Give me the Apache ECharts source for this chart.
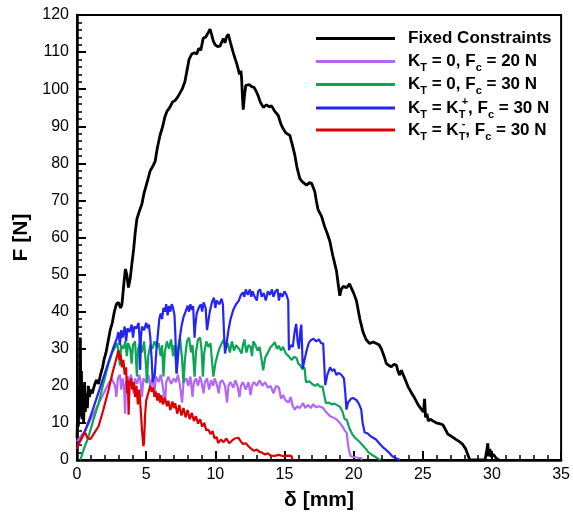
<!DOCTYPE html>
<html>
<head>
<meta charset="utf-8">
<script src="https://cdn.jsdelivr.net/npm/echarts@6/dist/echarts.min.js"></script>
<style>
  html, body { margin: 0; padding: 0; background: #fff; }
  #chart { width: 573px; height: 516px; }
</style>
</head>
<body>
<div id="chart"></div>
<script>
// 数据 (δ [mm], F [N])
var fixedConstraints = [[0,6],[0.05,14],[0.1,9],[0.15,20],[0.2,12],[0.24,33],[0.28,16],[0.32,24],[0.36,11],[0.42,19],[0.48,10],[0.55,21],[0.6,13],[0.68,18],[0.75,14],[0.82,20],[0.9,17],[1.0,19],[1.1,18],[1.25,20],[1.4,21.6],[1.55,20.5],[1.7,23],[1.85,25],[1.95,27],[2.1,29],[2.25,32],[2.4,35],[2.55,37],[2.7,40],[2.85,42],[3.0,42.5],[3.15,41],[3.25,42],[3.4,48],[3.5,51.5],[3.6,50],[3.72,46.5],[3.85,49],[3.97,53],[4.1,57],[4.2,61],[4.33,65],[4.5,67],[4.69,69],[4.85,72],[5.0,74],[5.15,76],[5.29,78],[5.45,79],[5.65,80.5],[5.8,84],[6.0,87.5],[6.2,90],[6.35,92.5],[6.5,94],[6.7,95],[6.9,96.5],[7.1,97],[7.3,98],[7.45,99],[7.6,100],[7.8,102],[7.95,105],[8.1,108],[8.3,109.5],[8.5,109.8],[8.66,109.5],[8.8,111],[8.95,110.5],[9.13,113.8],[9.3,114],[9.45,115],[9.62,116.2],[9.75,114.5],[9.85,113],[9.98,112],[10.15,111.5],[10.34,111.6],[10.5,113],[10.58,113.6],[10.7,112.5],[10.8,114],[10.94,114.8],[11.1,112.5],[11.3,109.8],[11.45,108],[11.54,107],[11.66,107.5],[11.75,104],[11.85,105],[11.9,103],[11.96,98],[12.02,94.5],[12.1,98],[12.2,101],[12.3,100.5],[12.45,101.2],[12.63,100.7],[12.8,100.5],[12.95,99.5],[13.1,98.2],[13.25,96.5],[13.47,95.1],[13.7,95.8],[13.9,95.2],[14.07,95.5],[14.3,94],[14.55,92.9],[14.75,90.5],[14.91,89.3],[15.1,88.2],[15.39,87.5],[15.6,84.5],[15.75,82.2],[15.9,79],[16.11,75.9],[16.3,75],[16.6,74.1],[16.8,74.8],[16.96,74.6],[17.19,72.4],[17.3,70],[17.43,67.5],[17.68,65.7],[17.9,63],[18.1,61],[18.28,59],[18.5,55],[18.76,51],[18.9,47],[19.0,44.3],[19.1,46],[19.24,46.8],[19.5,46.5],[19.7,47.5],[19.84,47],[20.0,45],[20.2,43],[20.45,38],[20.68,34.5],[20.9,32.5],[21.16,31.4],[21.4,31.8],[21.65,31.4],[21.85,31],[22.0,30],[22.2,28],[22.37,26],[22.55,25.5],[22.73,25.1],[22.9,25.8],[23.09,25.6],[23.2,24],[23.33,22.9],[23.45,24.2],[23.56,23.8],[23.75,21.5],[23.93,19.8],[24.2,18],[24.41,16.7],[24.65,15],[24.9,13.6],[25.05,13],[25.13,16.5],[25.2,11.5],[25.3,12.5],[25.4,10.5],[25.55,11],[25.75,10.5],[25.97,10],[26.2,9.8],[26.45,9.5],[26.6,8.5],[26.81,7],[27.1,6.3],[27.42,5.5],[27.7,4.8],[27.89,4.2],[28.1,3],[28.25,1.5],[28.4,0],[29.5,0],[29.6,2],[29.7,4.5],[29.75,1],[29.85,3],[29.95,0.8],[30.1,1.5],[30.3,0.5],[30.5,0]];

var ktZeroFc20 = [[0,5],[0.3,6.5],[0.6,8],[1.0,11],[1.4,14],[1.8,17],[2.2,20],[2.5,22],[2.64,22.5],[2.75,20],[2.85,17],[2.95,22],[3.1,23],[3.2,19],[3.3,22],[3.4,20],[3.48,12.5],[3.55,21],[3.7,22.5],[3.8,20],[3.9,23],[4.0,21],[4.1,18],[4.2,22],[4.35,20.5],[4.5,23],[4.6,21],[4.7,17],[4.8,22],[5.0,21],[5.15,23],[5.3,20],[5.45,22],[5.6,18],[5.7,22.5],[5.9,21],[6.05,23],[6.2,20],[6.37,15.5],[6.45,21],[6.6,22.5],[6.8,20.5],[7.0,22],[7.15,21],[7.3,23],[7.45,20],[7.6,15.5],[7.7,21],[7.9,22],[8.05,20],[8.2,22.5],[8.35,17],[8.45,21],[8.6,22],[8.75,20],[8.9,22.5],[9.0,21],[9.15,18],[9.25,21],[9.4,22],[9.55,19],[9.7,21.5],[9.85,20],[9.95,22],[10.1,20.5],[10.25,18],[10.35,21],[10.5,21.5],[10.7,20],[10.85,15.5],[10.95,20],[11.1,21],[11.3,19.5],[11.45,21.5],[11.6,20],[11.75,17],[11.85,20],[12.0,21],[12.2,19],[12.4,21],[12.55,17.5],[12.65,20],[12.8,21],[13.0,20],[13.2,21.5],[13.4,20],[13.6,21],[13.8,19.5],[14.0,20],[14.2,18],[14.4,20],[14.6,19.5],[14.75,16.5],[14.9,17.5],[15.1,16],[15.3,15.5],[15.45,17],[15.6,14.5],[15.75,13.6],[15.9,14.5],[16.1,14],[16.35,15.3],[16.5,14],[16.7,14.8],[16.9,14],[17.07,15],[17.3,14.2],[17.5,14.5],[17.8,14],[18.0,13],[18.3,11.8],[18.5,11.5],[18.76,11],[19.0,10],[19.2,9],[19.35,8],[19.5,7.3],[19.6,4],[19.7,2],[19.8,1],[20.0,0.8],[20.3,0.6],[20.55,0.5],[20.6,0]];

var ktZeroFc30 = [[0.24,0],[0.5,3],[0.84,6.4],[1.2,11],[1.56,15.3],[1.9,20.5],[2.28,26],[2.55,29],[2.76,30.5],[2.9,31.5],[3.0,29],[3.1,25.5],[3.2,31],[3.35,30],[3.5,32],[3.6,28],[3.7,31.5],[3.85,30],[3.95,26],[4.05,31],[4.2,32],[4.33,22.5],[4.42,30],[4.55,31.5],[4.7,29],[4.85,32],[5.0,25],[5.05,20.7],[5.15,28],[5.3,31],[5.45,30],[5.6,32],[5.75,30.5],[5.9,31.5],[6.05,28],[6.15,31],[6.25,22.5],[6.35,29],[6.5,32],[6.65,30],[6.8,32.5],[6.95,28],[7.05,31],[7.2,23.4],[7.3,30],[7.45,33],[7.6,27],[7.7,20.7],[7.8,27],[7.95,32],[8.1,33],[8.25,29],[8.35,31],[8.5,22.5],[8.6,29],[8.75,32.5],[8.9,33],[9.0,30],[9.1,22.5],[9.2,29],[9.35,32],[9.5,30.5],[9.65,31.5],[9.86,22.5],[10.0,26],[10.2,29],[10.4,31],[10.6,32.4],[10.75,30],[10.9,31.5],[11.05,29],[11.2,32],[11.35,29.5],[11.5,31],[11.7,30],[11.9,28.7],[12.0,31],[12.1,32.5],[12.25,29],[12.4,31],[12.55,30.5],[12.65,28],[12.75,32],[12.9,31],[13.05,29.5],[13.2,30.5],[13.35,27],[13.46,24.2],[13.6,27.5],[13.8,29],[14.0,30.5],[14.15,31],[14.3,31.8],[14.45,30],[14.6,30.8],[14.75,29.5],[14.9,30.5],[15.1,28.7],[15.3,28],[15.5,27],[15.7,27.8],[15.87,27.5],[16.0,26],[16.15,25.5],[16.3,24.5],[16.45,25],[16.55,21],[16.65,20.5],[16.8,21.2],[17.0,20.5],[17.2,20],[17.4,20.5],[17.55,19.8],[17.75,19.8],[17.9,17],[18.0,15.3],[18.2,15.5],[18.4,15],[18.6,15.2],[18.8,14.8],[19.0,14.4],[19.2,13],[19.35,11],[19.5,10.9],[19.7,8.5],[19.9,7],[20.1,6],[20.4,5],[20.7,3.8],[21.1,2],[21.4,1.2],[21.8,0.3],[21.95,0]];

var ktPlusFc30 = [[0,4],[0.3,5.5],[0.6,8],[1.0,12],[1.4,16.5],[1.8,21],[2.2,25.5],[2.6,30],[2.9,33],[3.0,34.5],[3.1,31],[3.2,35],[3.3,33],[3.45,36],[3.55,32],[3.65,35.5],[3.8,34.5],[3.95,36.5],[4.05,33],[4.15,36],[4.3,35.5],[4.45,37],[4.52,33],[4.57,24.3],[4.62,33],[4.7,36],[4.85,35],[5.0,37],[5.1,35.5],[5.2,36.5],[5.3,33],[5.4,27],[5.48,21],[5.55,20.7],[5.62,23],[5.75,30],[5.85,34],[5.95,38],[6.05,39.5],[6.15,38],[6.25,41],[6.37,40],[6.45,42],[6.55,39],[6.65,41.5],[6.75,40],[6.85,42],[6.95,41],[7.05,39],[7.12,33],[7.2,23.3],[7.28,27],[7.4,32],[7.55,36],[7.7,38.5],[7.85,40],[8.0,41.6],[8.1,40],[8.2,42],[8.3,40.5],[8.4,41.5],[8.45,37],[8.5,33],[8.55,36],[8.65,39.5],[8.8,41],[8.95,42],[9.05,40],[9.15,42.5],[9.3,41],[9.4,35],[9.5,34.9],[9.6,40],[9.75,42.5],[9.9,43.8],[10.0,41],[10.1,43],[10.2,43.5],[10.3,42],[10.45,43.5],[10.55,42],[10.62,35],[10.7,28.7],[10.8,31],[10.95,35],[11.1,38],[11.3,40.5],[11.5,42],[11.7,43],[11.85,44.5],[12.0,45.2],[12.1,44],[12.2,46],[12.35,44.5],[12.5,46],[12.6,44],[12.7,45.5],[12.85,44],[13.0,43],[13.1,45.5],[13.25,46],[13.35,44],[13.5,45],[13.65,43],[13.8,45.5],[13.95,44.5],[14.1,46],[14.2,44],[14.35,45.5],[14.5,46],[14.6,43],[14.7,45],[14.85,44],[15.0,45.5],[15.15,44.5],[15.27,43],[15.32,29.6],[15.45,31],[15.6,30.5],[15.75,35],[15.85,36.7],[15.95,32],[16.05,30],[16.15,35],[16.22,36.5],[16.28,30],[16.32,24.7],[16.45,27],[16.6,29.5],[16.75,31.5],[16.9,32.3],[17.1,32.7],[17.3,32],[17.5,32.5],[17.65,31.5],[17.8,31.4],[17.95,20.2],[18.1,23],[18.3,25],[18.45,24],[18.6,24.5],[18.76,22.9],[18.9,23.5],[19.1,23],[19.3,22],[19.4,18],[19.48,13.6],[19.6,15.5],[19.8,16.5],[19.96,16.7],[20.2,16.2],[20.4,15],[20.55,13.6],[20.65,10],[20.8,7.4],[21.0,7.2],[21.2,6.5],[21.4,6],[21.6,5.6],[21.85,4.5],[22.1,3.5],[22.3,2.9],[22.55,2],[22.8,1],[23.1,0.4],[23.35,0]];

var ktMinusFc30 = [[0,3],[0.2,5],[0.4,6.5],[0.6,7.3],[0.75,6],[0.96,5.6],[1.2,7],[1.56,9.1],[1.9,13.5],[2.28,18.9],[2.6,24],[2.88,27.8],[3.0,29.6],[3.08,27],[3.15,28.5],[3.25,25],[3.35,27],[3.45,23],[3.55,25],[3.62,18],[3.68,21.6],[3.73,12.2],[3.8,20],[3.9,22],[4.0,19],[4.1,21],[4.2,17],[4.3,20],[4.4,15],[4.5,19],[4.6,14],[4.7,8],[4.8,3.7],[4.85,5],[4.92,12],[5.0,16],[5.15,18],[5.3,20],[5.4,18.4],[5.5,19.5],[5.6,17],[5.7,18.5],[5.8,16],[5.9,18],[6.0,15.5],[6.1,17.5],[6.2,15],[6.35,16.8],[6.5,14.5],[6.6,16],[6.75,13.5],[6.9,15.8],[7.0,14],[7.1,15.3],[7.25,12.5],[7.4,14.8],[7.55,12],[7.7,14],[7.85,11.5],[8.0,13.5],[8.15,11],[8.3,12.7],[8.45,10.5],[8.6,11.8],[8.75,9.8],[8.9,11],[9.05,9],[9.2,10],[9.35,8],[9.5,8.2],[9.65,7],[9.8,7.8],[9.95,5.8],[10.1,6.2],[10.2,4.6],[10.4,5.5],[10.6,4.8],[10.8,5.8],[11.0,4.5],[11.2,5.2],[11.4,5.8],[11.66,6],[11.85,5],[12.0,4.3],[12.2,4.5],[12.4,3.7],[12.6,3],[12.8,2.5],[13.0,2.8],[13.2,2.2],[13.35,2],[13.6,1.5],[13.8,1.8],[14.0,1.2],[14.3,1.1],[14.6,1.4],[14.9,1],[15.2,1.2],[15.5,1.1],[15.6,0]];

var seriesNames = ['Fixed Constraints', 'KT=0, Fc=20 N', 'KT=0, Fc=30 N', 'KT=KT+, Fc=30 N', 'KT=KT-, Fc=30 N'];
// 图例富文本 (下标 / 上标)
var legendLabels = {
  'Fixed Constraints': '{m|Fixed Constraints}',
  'KT=0, Fc=20 N': '{m|K}{sub|T}{m| = 0, F}{sub|c}{m| = 20 N}',
  'KT=0, Fc=30 N': '{m|K}{sub|T}{m| = 0, F}{sub|c}{m| = 30 N}',
  'KT=KT+, Fc=30 N': '{m|K}{sub|T}{m| = K}{subN|T}{sup|+}{m|, F}{sub|c}{m| = 30 N}',
  'KT=KT-, Fc=30 N': '{m|K}{sub|T}{m| = K}{subN|T}{sup|-}{m|, F}{sub|c}{m| = 30 N}'
};
var legendTops = [30, 53, 76, 96, 118];

var chart = echarts.init(document.getElementById('chart'), null, {renderer: 'canvas'});

function makeLine(name, data, color, width, z) {
  return {
    name: name,
    type: 'line',
    data: data,
    symbol: 'none',
    showSymbol: false,
    z: z,
    lineStyle: { color: color, width: width },
    itemStyle: { color: color }
  };
}

var font = 'Liberation Sans, Arial, sans-serif';

// 每行一个图例, 行距固定
var legends = seriesNames.map(function (name, i) {
  return {
    data: [name],
    orient: 'vertical',
    left: 316,
    top: legendTops[i],
    padding: 0,
    icon: 'rect',
    itemWidth: 79,
    itemHeight: 3,
    formatter: function (n) { return legendLabels[n]; },
    textStyle: {
      height: 24,
      padding: [0, 0, 0, 8],
      rich: {
        m: { fontSize: 17, fontWeight: 'bold', fontFamily: font, color: '#000', lineHeight: 24 },
        sub: { fontSize: 11, fontWeight: 'bold', fontFamily: font, color: '#000', verticalAlign: 'bottom', lineHeight: 11 },
        subN: { fontSize: 11, fontWeight: 'bold', fontFamily: font, color: '#000', verticalAlign: 'bottom', lineHeight: 11, width: 3 },
        sup: { fontSize: 11, fontWeight: 'bold', fontFamily: font, color: '#000', verticalAlign: 'top', lineHeight: 11 }
      }
    }
  };
});

var option = {
  animation: false,
  backgroundColor: '#fff',
  grid: {
    left: 77,
    right: 11,
    top: 15,
    bottom: 52,
    show: true,
    borderColor: '#000',
    borderWidth: 2
  },
  legend: legends,
  xAxis: {
    type: 'value',
    min: 0,
    max: 35,
    interval: 5,
    name: 'δ [mm]',
    nameLocation: 'middle',
    nameGap: 30,
    nameTextStyle: { fontSize: 21, fontWeight: 'bold', fontFamily: font, color: '#000' },
    axisLine: { lineStyle: { color: '#000', width: 2.5 } },
    axisTick: { inside: true, length: 9, lineStyle: { color: '#000', width: 2 } },
    minorTick: { show: true, splitNumber: 5, length: 5, lineStyle: { color: '#000', width: 1.5 } },
    splitLine: { show: false },
    axisLabel: { fontSize: 16, color: '#000', fontFamily: font, margin: 7 }
  },
  yAxis: {
    type: 'value',
    min: 0,
    max: 120,
    interval: 10,
    name: 'F [N]',
    nameLocation: 'middle',
    nameGap: 40,
    nameRotate: 90,
    nameTextStyle: { fontSize: 21, fontWeight: 'bold', fontFamily: font, color: '#000' },
    axisLine: { lineStyle: { color: '#000', width: 2.5 } },
    axisTick: { inside: true, length: 9, lineStyle: { color: '#000', width: 2 } },
    minorTick: { show: true, splitNumber: 5, length: 5, lineStyle: { color: '#000', width: 1.5 } },
    splitLine: { show: false },
    axisLabel: { fontSize: 16, color: '#000', fontFamily: font, margin: 8 }
  },
  series: [
    makeLine(seriesNames[1], ktZeroFc20, '#b366f7', 2.2, 2),
    makeLine(seriesNames[2], ktZeroFc30, '#0ca455', 2.2, 3),
    makeLine(seriesNames[3], ktPlusFc30, '#2424f5', 2.2, 4),
    makeLine(seriesNames[4], ktMinusFc30, '#dd0000', 2.2, 5),
    makeLine(seriesNames[0], fixedConstraints, '#000000', 2.8, 6)
  ]
};

chart.setOption(option);
</script>
</body>
</html>
